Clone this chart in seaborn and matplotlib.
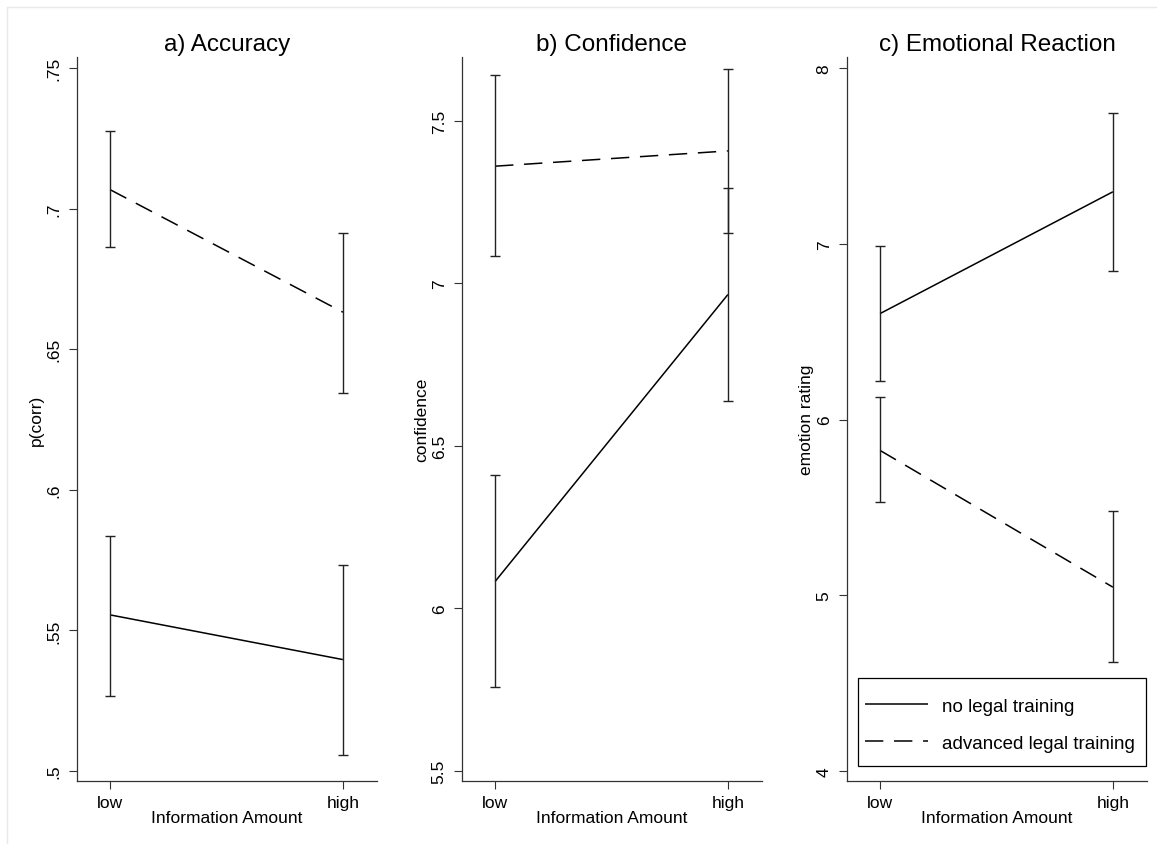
import pandas as pd
import seaborn as sns
import matplotlib.pyplot as plt
from matplotlib.patches import Rectangle

# categories
info_levels = ["low", "high"]
groups = ["no legal training", "advanced legal training"]

# a) Accuracy - means and CI bounds (low, high)
acc_none = [0.5555, 0.5396]
acc_none_lo = [0.5268, 0.5057]
acc_none_hi = [0.5836, 0.5732]
acc_adv = [0.7068, 0.6632]
acc_adv_lo = [0.6865, 0.6346]
acc_adv_hi = [0.7278, 0.6914]

# b) Confidence
conf_none = [6.083, 6.966]
conf_none_lo = [5.757, 6.639]
conf_none_hi = [6.411, 7.293]
conf_adv = [7.361, 7.408]
conf_adv_lo = [7.084, 7.156]
conf_adv_hi = [7.642, 7.660]

# c) Emotional Reaction
emo_none = [6.603, 7.296]
emo_none_lo = [6.222, 6.846]
emo_none_hi = [6.990, 7.745]
emo_adv = [5.824, 5.046]
emo_adv_lo = [5.528, 4.620]
emo_adv_hi = [6.131, 5.480]

acc_ticks = [0.5, 0.55, 0.6, 0.65, 0.7, 0.75]
acc_ticklabels = [".5", ".55", ".6", ".65", ".7", ".75"]
conf_ticks = [5.5, 6, 6.5, 7, 7.5]
conf_ticklabels = ["5.5", "6", "6.5", "7", "7.5"]
emo_ticks = [4, 5, 6, 7, 8]
emo_ticklabels = ["4", "5", "6", "7", "8"]

sns.set_style("ticks")
plt.rcParams['font.family'] = ['Liberation Sans', 'DejaVu Sans']
for key in ["text.color", "axes.labelcolor", "xtick.labelcolor", "ytick.labelcolor"]:
    plt.rcParams[key] = "black"


def make_df(none, adv):
    rows = []
    for g, vals in zip(groups, [none, adv]):
        for i, v in enumerate(vals):
            rows.append({"x": i, "group": g, "value": v})
    return pd.DataFrame(rows)


panels = [
    ("a) Accuracy", "p(corr)", acc_none, acc_none_lo, acc_none_hi, acc_adv, acc_adv_lo, acc_adv_hi,
     acc_ticks, acc_ticklabels, (0.4964, 0.754)),
    ("b) Confidence", "confidence", conf_none, conf_none_lo, conf_none_hi, conf_adv, conf_adv_lo, conf_adv_hi,
     conf_ticks, conf_ticklabels, (5.469, 7.697)),
    ("c) Emotional Reaction", "emotion rating", emo_none, emo_none_lo, emo_none_hi, emo_adv, emo_adv_lo, emo_adv_hi,
     emo_ticks, emo_ticklabels, (3.943, 8.063)),
]

lefts = [77 / 1157, 462 / 1157, 847 / 1157]
width = 300 / 1157
bottom = 1 - 782 / 845
height = 724 / 845

fig = plt.figure(figsize=(11.57, 8.45), dpi=100)
fig.patches.append(Rectangle((7 / 1157, -0.01), 1.1, 1 - 8 / 845 + 0.01, transform=fig.transFigure,
                             fill=False, edgecolor="#e8e8e8", lw=1))

for k, (title, ylab, n, nlo, nhi, a, alo, ahi, ticks, tlabels, ylim) in enumerate(panels):
    ax = fig.add_axes([lefts[k], bottom, width, height])
    df = make_df(n, a)
    sns.lineplot(data=df, x="x", y="value", hue="group", style="group",
                 palette=["black", "black"], dashes=[(1, 0), (12, 7)],
                 lw=1.1, ax=ax, legend=(k == 2))
    for means, lo, hi in [(n, nlo, nhi), (a, alo, ahi)]:
        ax.errorbar([0, 1], means,
                    yerr=[[m - l for m, l in zip(means, lo)], [h - m for m, h in zip(means, hi)]],
                    fmt="none", ecolor="#222222", elinewidth=1.0, capsize=3.5, capthick=1.0)
    ax.set_xlim(-33 / 232, 1 + 34 / 232)
    ax.set_ylim(*ylim)
    ax.set_xticks([0, 1])
    ax.set_xticklabels(info_levels)
    ax.set_yticks(ticks)
    ax.set_yticklabels(tlabels, rotation=90, va="center")
    ax.tick_params(axis="both", direction="out", length=6, width=0.8, labelsize=12.5, color="#333333")
    ax.tick_params(axis="y", pad=5)
    ax.tick_params(axis="x", pad=4)
    for s in ["top", "right"]:
        ax.spines[s].set_visible(False)
    for s in ["left", "bottom"]:
        ax.spines[s].set_color("#333333")
        ax.spines[s].set_linewidth(0.9)
    ax.set_xlabel("Information Amount", fontsize=12.5, labelpad=0)
    ax.set_ylabel(ylab, fontsize=12.5, labelpad=2)
    ax.set_title(title, fontsize=17.5, pad=5)
    if k == 2:
        # legend box drawn as its own frame, the legend itself sits inside it
        ax.add_patch(Rectangle((0.0365, 0.0207), 0.96, 0.1216, transform=ax.transAxes,
                               fill=False, edgecolor="black", lw=0.9, clip_on=False, zorder=5))
        leg = ax.legend(loc="center left", bbox_to_anchor=(0.0365, 0.0775),
                        borderaxespad=0, fontsize=13.5, handlelength=3.4, handletextpad=0.75,
                        labelspacing=1.05, borderpad=0.35, frameon=False, title=None)
        for line in leg.get_lines():
            line.set_linewidth(1.1)

fig.savefig("out.png", dpi=100, facecolor="white")
